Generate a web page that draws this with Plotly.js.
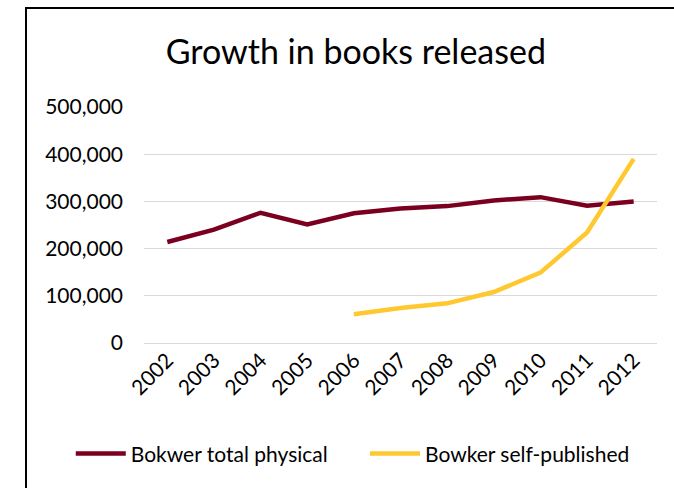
<!DOCTYPE html>
<html>
<head>
<meta charset="utf-8">
<script src="https://cdn.plot.ly/plotly-3.0.1.min.js"></script>
<style>
html,body{margin:0;padding:0;background:#fff;}
#wrap{position:relative;width:674px;height:488px;}
#chart{position:absolute;left:0;top:0;width:674px;height:488px;}
#frame{position:absolute;left:25px;top:7px;width:660px;height:490px;border-left:2px solid #000;border-top:2px solid #000;pointer-events:none;}
</style>
</head>
<body>
<div id="wrap"><div id="chart"></div><div id="frame"></div></div>
<script>
const years = ['2002','2003','2004','2005','2006','2007','2008','2009','2010','2011','2012'];
const totalPhysical = [214000, 240000, 276000, 251000, 275000, 285000, 290000, 302000, 309000, 291000, 300000];
const selfPublished = [null, null, null, null, 61000, 74000, 84000, 108000, 149000, 234000, 390000];
const seriesNames = ['Bokwer total physical', 'Bowker self-published'];
const yTicks = [0, 100000, 200000, 300000, 400000, 500000];
const yTickText = ['0', '100,000', '200,000', '300,000', '400,000', '500,000'];

const font = 'Lato, "Noto Sans", sans-serif';
const traces = [
  {x: years, y: totalPhysical, name: seriesNames[0], type: 'scatter', mode: 'lines',
   line: {color: '#7B0020', width: 4.5}, legend: 'legend'},
  {x: years, y: selfPublished, name: seriesNames[1], type: 'scatter', mode: 'lines',
   line: {color: '#FFC830', width: 4.5}, connectgaps: false, legend: 'legend2'}
];
const legendBase = {orientation: 'h', xref: 'container', xanchor: 'left',
                    y: 0.07, yref: 'container', yanchor: 'middle',
                    font: {family: font, size: 21}, itemwidth: 50, bgcolor: 'rgba(0,0,0,0)'};
const layout = {
  width: 674, height: 488,
  margin: {l: 144, r: 17, t: 107, b: 145},
  paper_bgcolor: '#fff', plot_bgcolor: '#fff',
  font: {family: font, color: '#000', size: 21},
  title: {text: 'Growth in books released', font: {family: font, size: 34, color: '#000'},
          x: 0.528, xref: 'container', xanchor: 'center', y: 0.893, yref: 'container', yanchor: 'middle'},
  xaxis: {type: 'category', range: [-0.5, 10.5], tickangle: -45, showgrid: false,
          showline: false, zeroline: false, ticks: '', tickfont: {family: font, size: 21}},
  yaxis: {range: [0, 500000], tickvals: yTicks, ticktext: yTickText, showgrid: true,
          gridcolor: '#D9D9D9', gridwidth: 1, zeroline: true, zerolinecolor: '#D9D9D9', zerolinewidth: 1,
          showline: false, ticks: '', ticklabelstandoff: 20, tickfont: {family: font, size: 21}},
  showlegend: true,
  legend: Object.assign({}, legendBase, {x: 0.105}),
  legend2: Object.assign({}, legendBase, {x: 0.5415})
};
Plotly.newPlot('chart', traces, layout, {displayModeBar: false, staticPlot: true});
</script>
</body>
</html>
